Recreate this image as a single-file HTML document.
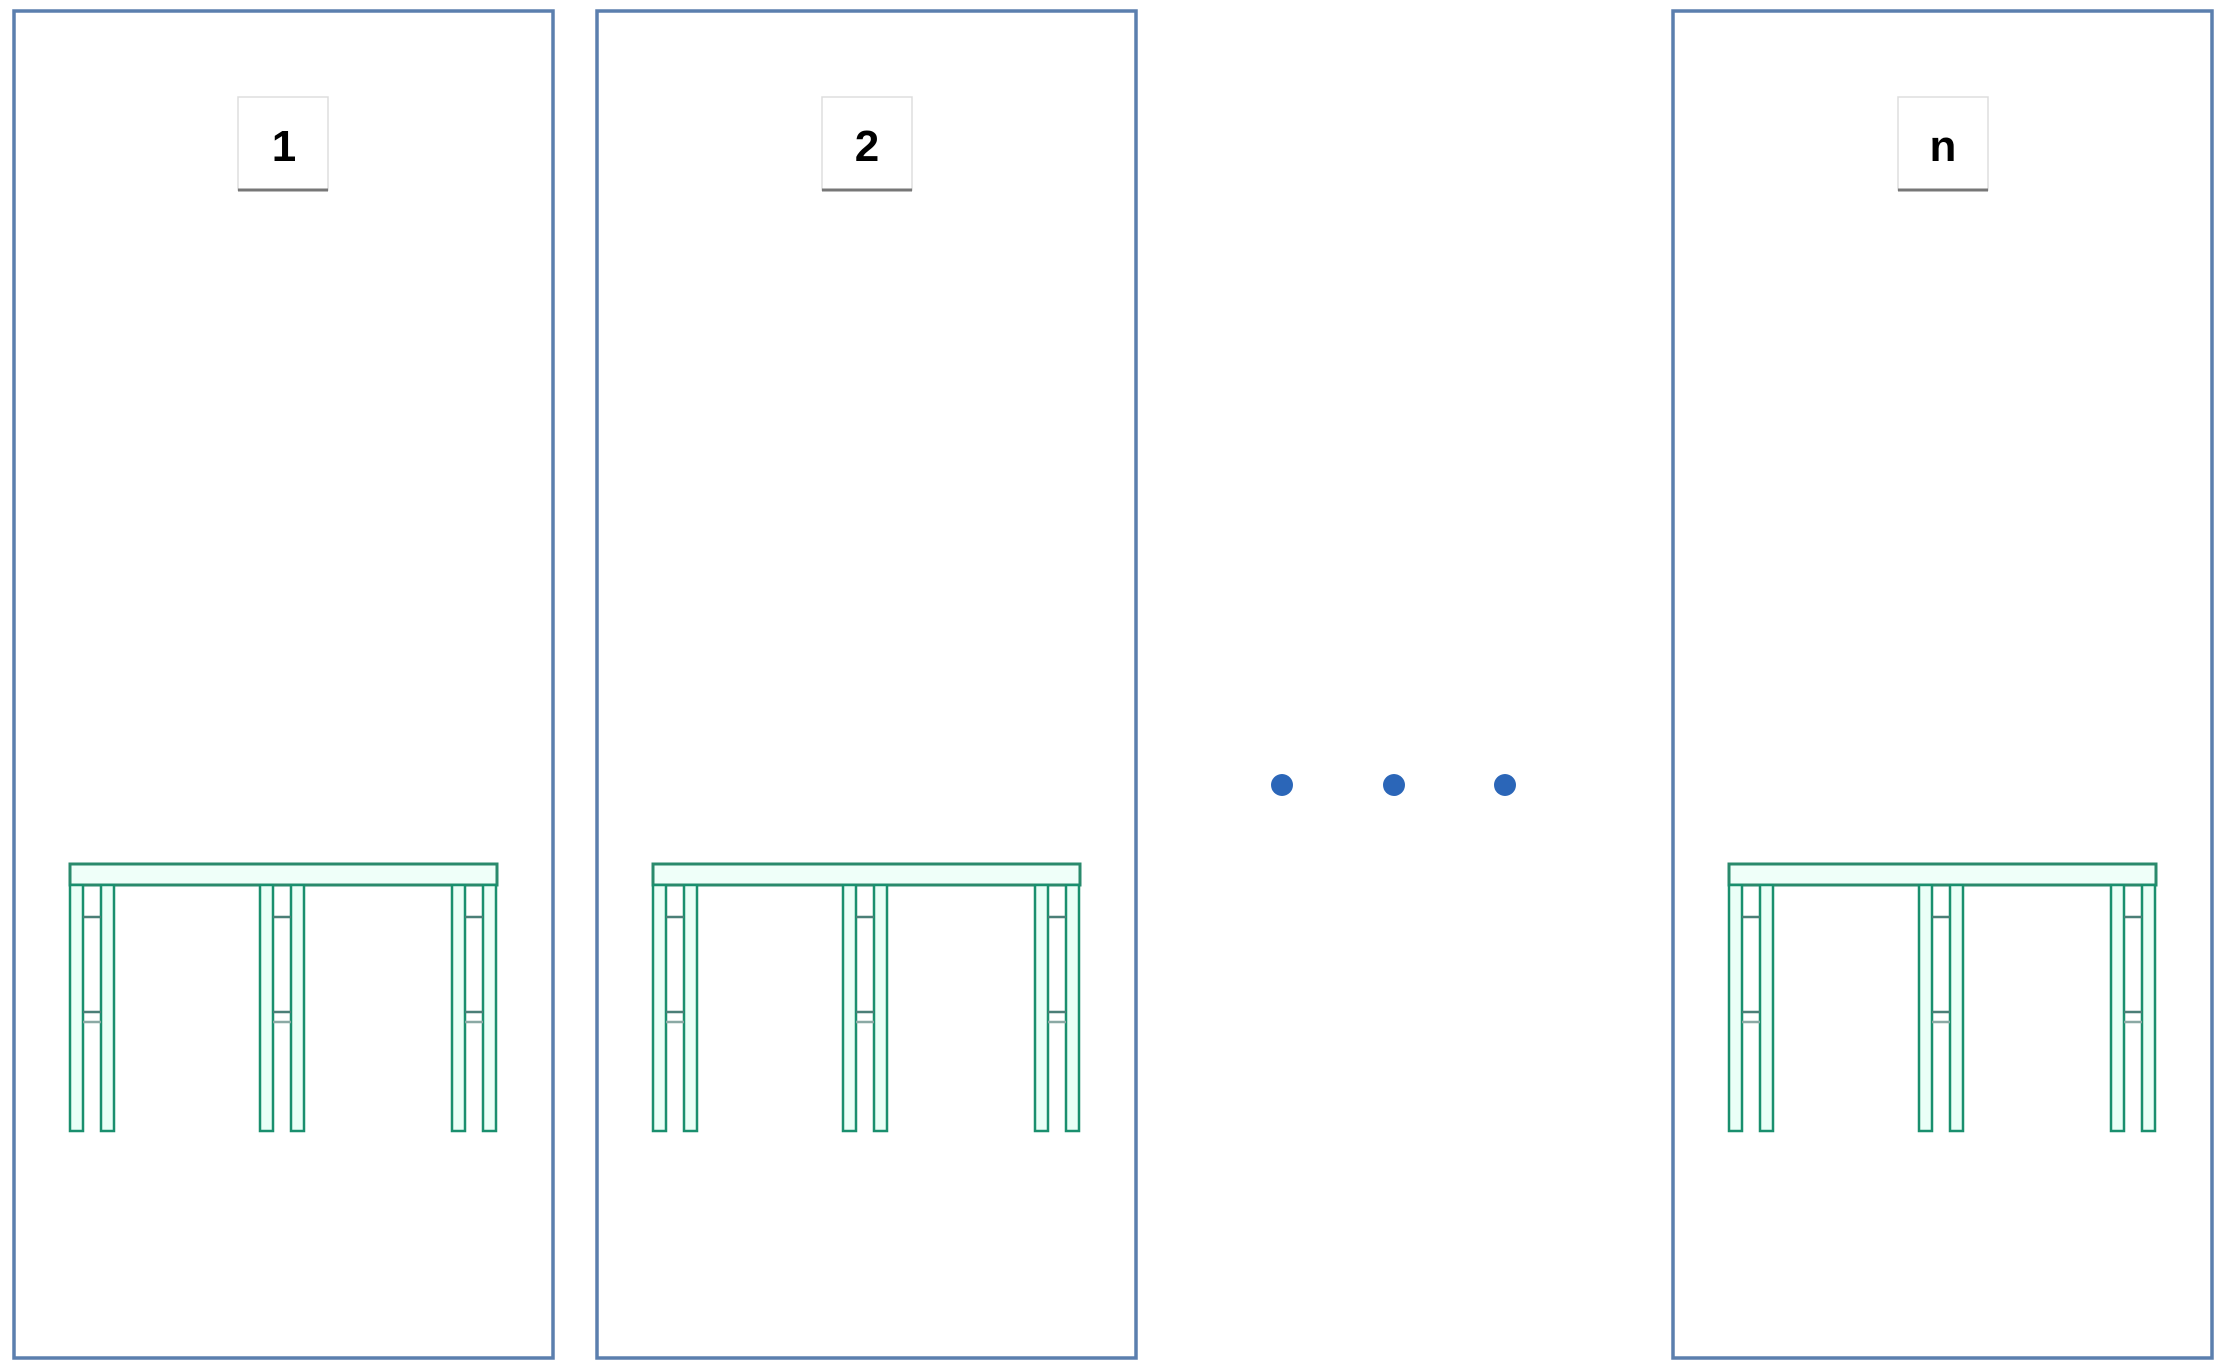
<!DOCTYPE html>
<html><head><meta charset="utf-8"><style>
html,body{margin:0;padding:0;background:#fff;}
svg{display:block;}
text{font-family:"Liberation Sans",sans-serif;font-weight:bold;}
</style></head><body>
<svg width="2228" height="1371" viewBox="0 0 2228 1371" xmlns="http://www.w3.org/2000/svg">
<defs>
<g id="leg" fill="#eafff7" stroke="#1a8f6e" stroke-width="2.5">
  <rect x="0" y="885" width="13" height="246"/>
  <rect x="31" y="885" width="13" height="246"/>
  <line x1="13" y1="917" x2="31" y2="917" stroke="#4a7f77"/>
  <line x1="13" y1="1012" x2="31" y2="1012" stroke="#4a7f77"/>
  <line x1="13" y1="1022" x2="31" y2="1022" stroke="#8aa9a4"/>
</g>
<g id="table">
  <rect x="0" y="864" width="427" height="21" fill="#effff9" stroke="#2a8a6c" stroke-width="3"/>
  <use href="#leg" x="0"/>
  <use href="#leg" x="190"/>
  <use href="#leg" x="382"/>
</g>
<g id="panel">
  <rect x="14" y="11" width="539" height="1347" fill="#fff" stroke="#5b7fae" stroke-width="3.5"/>
  <use href="#table" x="70"/>
</g>
</defs>
<use href="#panel" x="0"/>
<use href="#panel" x="583"/>
<use href="#panel" x="1659"/>
<g fill="#fff" stroke="#ddd" stroke-width="1.5">
  <rect x="238" y="97" width="90" height="93"/>
  <rect x="822" y="97" width="90" height="93"/>
  <rect x="1898" y="97" width="90" height="93"/>
</g>
<g stroke="#777" stroke-width="3">
  <line x1="238" y1="190" x2="328" y2="190"/>
  <line x1="822" y1="190" x2="912" y2="190"/>
  <line x1="1898" y1="190" x2="1988" y2="190"/>
</g>
<g font-size="44" text-anchor="middle" fill="#000">
  <text x="284" y="161">1</text>
  <text x="867" y="161">2</text>
  <text x="943" y="161" dx="1000">n</text>
</g>
<g fill="#2b66b8">
  <circle cx="1282" cy="785" r="11"/>
  <circle cx="1394" cy="785" r="11"/>
  <circle cx="1505" cy="785" r="11"/>
</g>
</svg>
</body></html>
